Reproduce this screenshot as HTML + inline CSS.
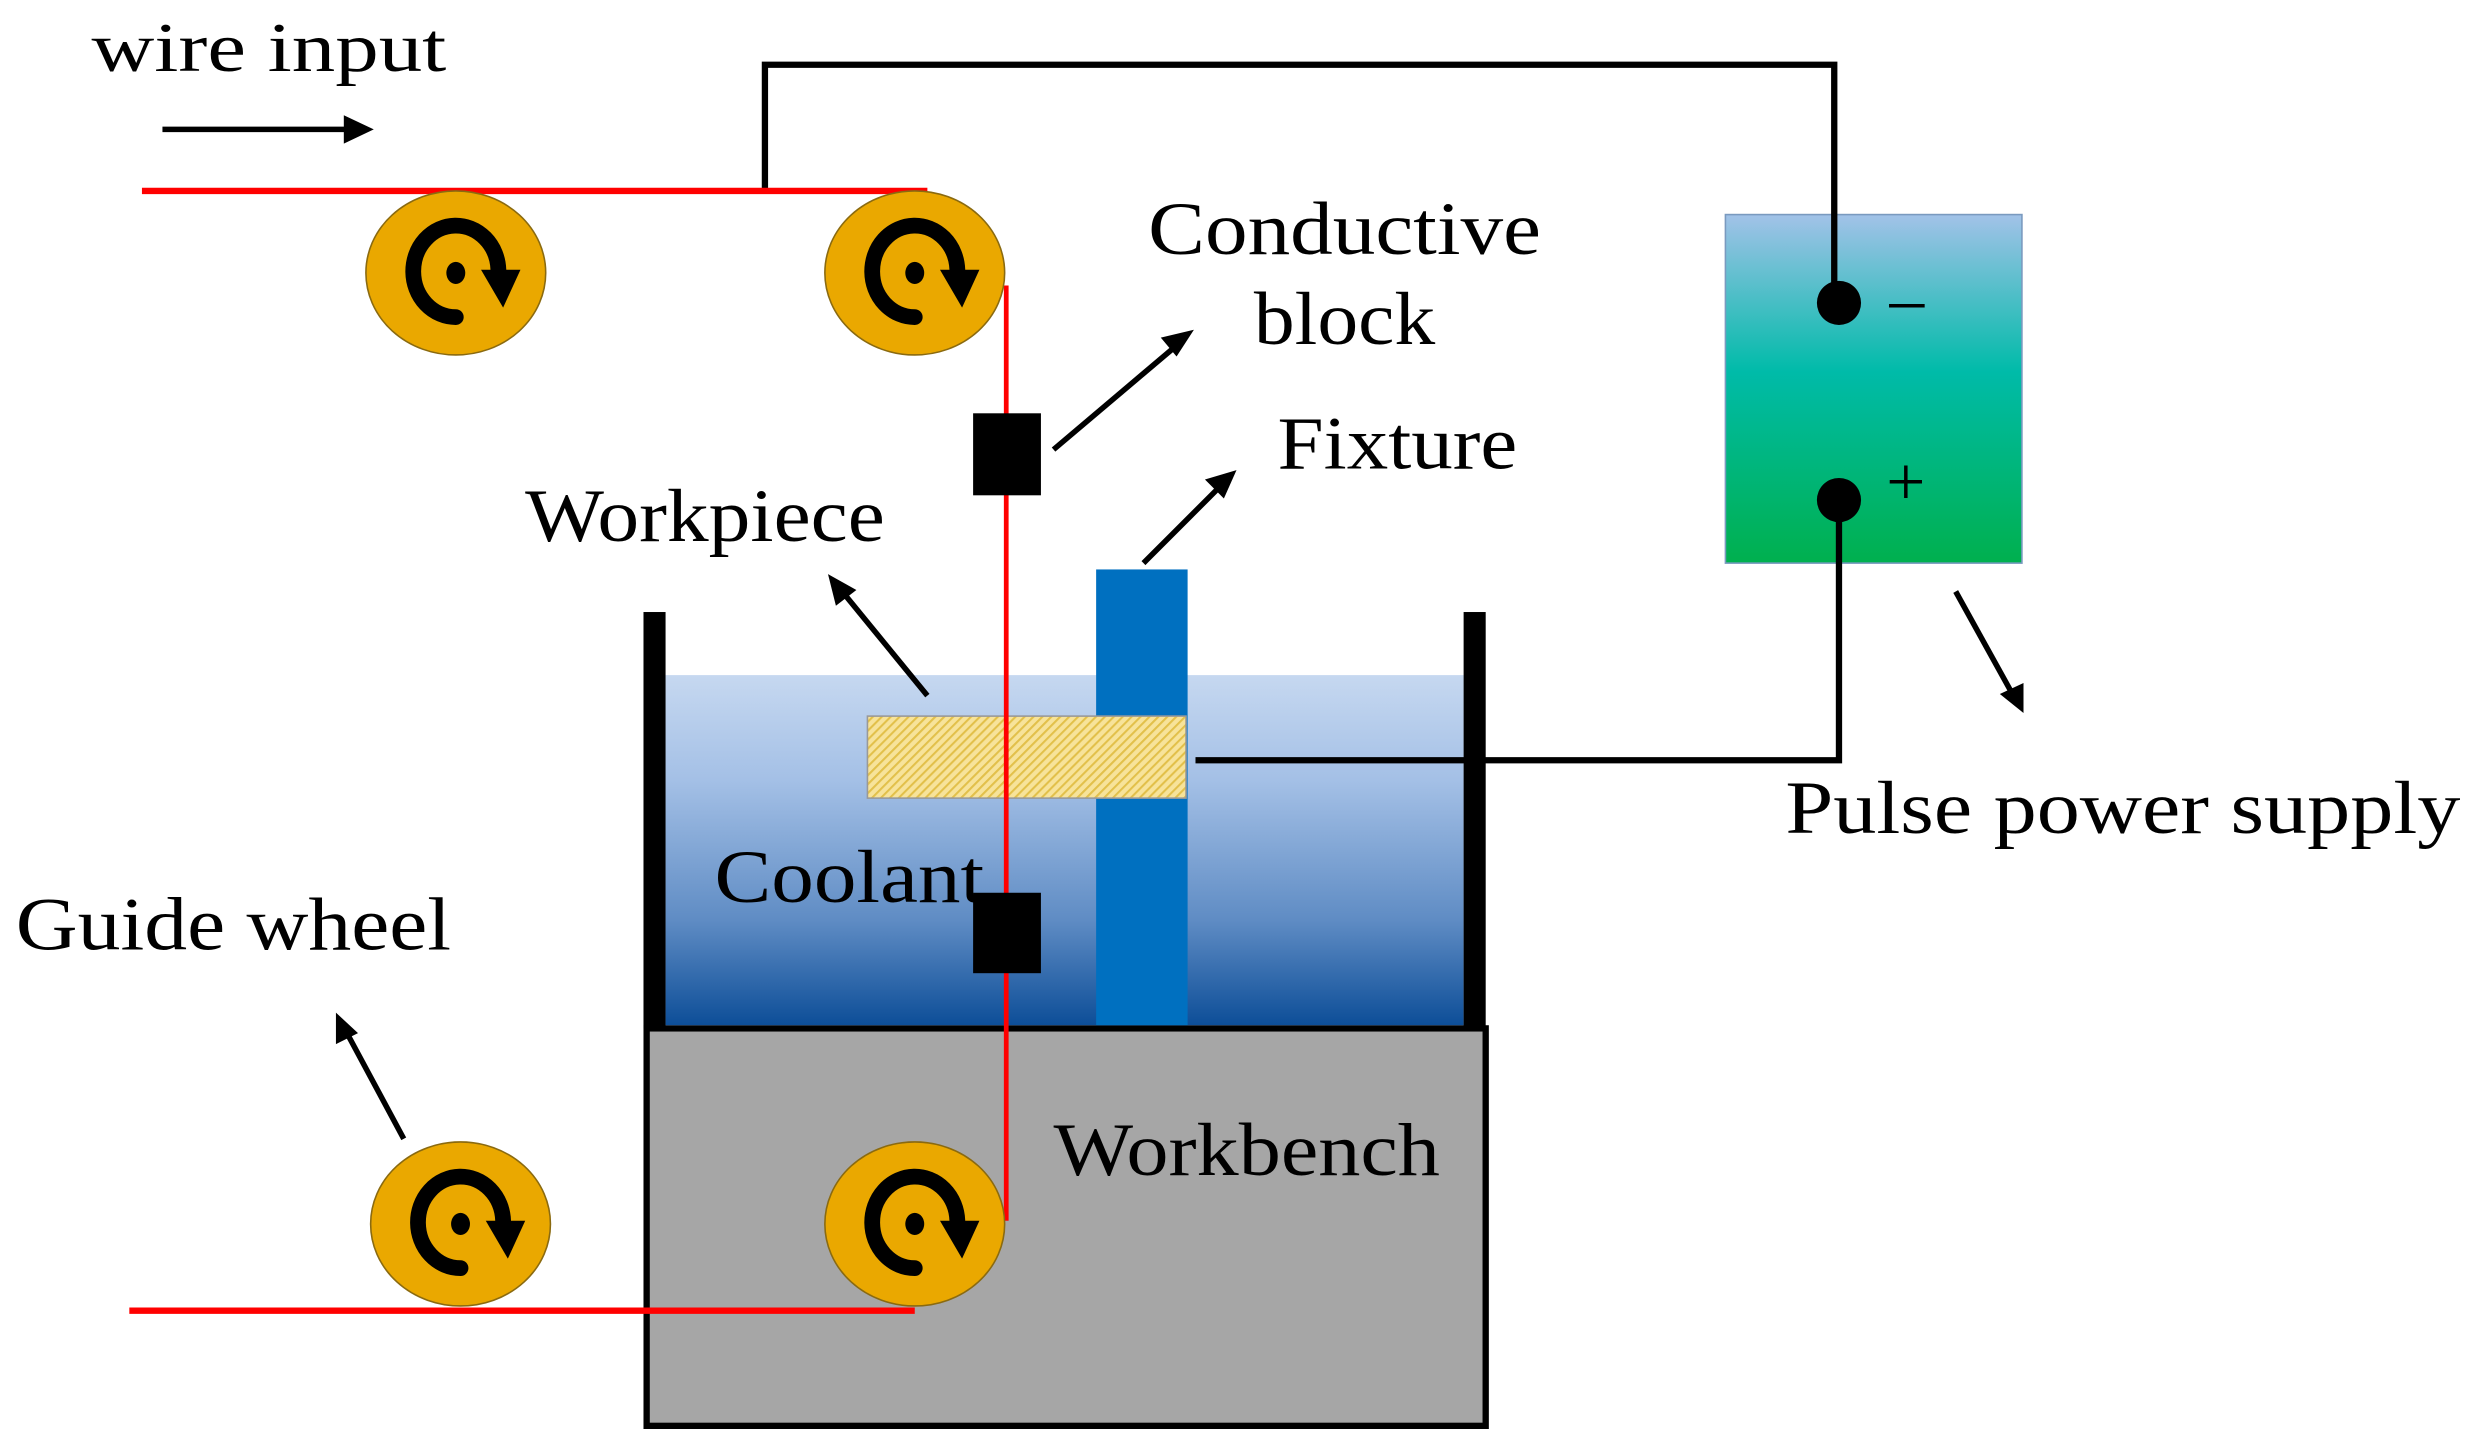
<!DOCTYPE html>
<html><head><meta charset="utf-8"><style>
html,body{margin:0;padding:0;background:#fff;}
svg{display:block;}
text{font-family:"Liberation Serif",serif;fill:#000;}
</style></head><body>
<svg width="2473" height="1448" viewBox="0 0 1568 918" xmlns="http://www.w3.org/2000/svg">
<defs>
<linearGradient id="cool" x1="0" y1="0" x2="0" y2="1">
<stop offset="0" stop-color="#c6d8f0"/><stop offset="0.3" stop-color="#a4c0e6"/><stop offset="0.7" stop-color="#5f8cc4"/><stop offset="1" stop-color="#0d4e98"/></linearGradient>
<linearGradient id="psu" x1="0" y1="0" x2="0" y2="1">
<stop offset="0" stop-color="#a2c2e8"/><stop offset="0.45" stop-color="#00bba9"/><stop offset="1" stop-color="#00b04e"/></linearGradient>
<pattern id="hatch" width="4" height="4" patternUnits="userSpaceOnUse" patternTransform="rotate(45)">
<rect width="4" height="4" fill="#f7e39a"/><rect width="1.3" height="4" fill="#e2c04a"/></pattern>
<g id="wheel">
<ellipse cx="0" cy="0" rx="57" ry="52" fill="#eaa800" stroke="#8a6a10" stroke-width="1"/>
<path d="M 0,28 A 27 29 0 1 1 27,-2" fill="none" stroke="#000" stroke-width="10" stroke-linecap="round"/>
<polygon points="16,-2 41,-2 30,22" fill="#000"/>
<ellipse cx="0" cy="0" rx="6" ry="7" fill="#000"/>
</g>
</defs>

<rect x="410" y="652" width="532" height="252" fill="#a6a6a6" stroke="#000" stroke-width="4"/>
<rect x="422" y="428" width="506" height="222" fill="url(#cool)"/>
<rect x="695" y="361" width="58" height="289" fill="#0070c0"/>
<rect x="550" y="454" width="202" height="52" fill="url(#hatch)" stroke="#999" stroke-width="1"/>
<rect x="408" y="388" width="14" height="264" fill="#000"/>
<rect x="928" y="388" width="14" height="264" fill="#000"/>

<rect x="1094" y="136" width="188" height="221" fill="url(#psu)" stroke="#7a9abf" stroke-width="1"/>
<polyline points="485,121 485,41 1163,41 1163,190" fill="none" stroke="#000" stroke-width="4"/>
<polyline points="1166,317 1166,482 758,482" fill="none" stroke="#000" stroke-width="4"/>
<circle cx="1166" cy="192" r="14" fill="#000"/>
<circle cx="1166" cy="317" r="14" fill="#000"/>
<text x="1198" y="204" font-size="44">–</text>
<text x="1196" y="320" font-size="44">+</text>

<line x1="90" y1="121" x2="588" y2="121" stroke="#f00" stroke-width="4"/>
<line x1="638" y1="181" x2="638" y2="774" stroke="#f00" stroke-width="3"/>
<line x1="82" y1="831" x2="580" y2="831" stroke="#f00" stroke-width="4"/>

<use href="#wheel" x="289" y="173"/>
<use href="#wheel" x="580" y="173"/>
<use href="#wheel" x="292" y="776"/>
<use href="#wheel" x="580" y="776"/>

<rect x="617" y="262" width="43" height="52" fill="#000"/>
<rect x="617" y="566" width="43" height="51" fill="#000"/>

<g stroke="#000" stroke-width="3.5" fill="#000">
<line x1="103" y1="82" x2="222" y2="82"/><polygon points="237,82 218,73 218,91" stroke="none"/>
<line x1="668" y1="285" x2="746" y2="219"/><polygon points="757,209 736,214 746,226" stroke="none"/>
<line x1="725" y1="357" x2="774" y2="308"/><polygon points="784,298 764,304 776,316" stroke="none"/>
<line x1="588" y1="441" x2="534" y2="375"/><polygon points="525,364 530,384 543,374" stroke="none"/>
<line x1="256" y1="722" x2="220" y2="655"/><polygon points="213,642 213,662 227,655" stroke="none"/>
<line x1="1240" y1="375" x2="1276" y2="440"/><polygon points="1283,452 1268,440 1283,433" stroke="none"/>
</g>

<text x="58" y="45" font-size="44" textLength="225" lengthAdjust="spacingAndGlyphs">wire input</text>
<text x="728" y="161" font-size="48" textLength="249" lengthAdjust="spacingAndGlyphs">Conductive</text>
<text x="795" y="218" font-size="48" textLength="115" lengthAdjust="spacingAndGlyphs">block</text>
<text x="810" y="297" font-size="48" textLength="152" lengthAdjust="spacingAndGlyphs">Fixture</text>
<text x="333" y="343" font-size="48" textLength="228" lengthAdjust="spacingAndGlyphs">Workpiece</text>
<text x="453" y="572" font-size="48" textLength="171" lengthAdjust="spacingAndGlyphs">Coolant</text>
<text x="10" y="602" font-size="48" textLength="276" lengthAdjust="spacingAndGlyphs">Guide wheel</text>
<text x="668" y="745" font-size="48" textLength="245" lengthAdjust="spacingAndGlyphs">Workbench</text>
<text x="1132" y="528" font-size="48" textLength="428" lengthAdjust="spacingAndGlyphs">Pulse power supply</text>
</svg>
</body></html>
